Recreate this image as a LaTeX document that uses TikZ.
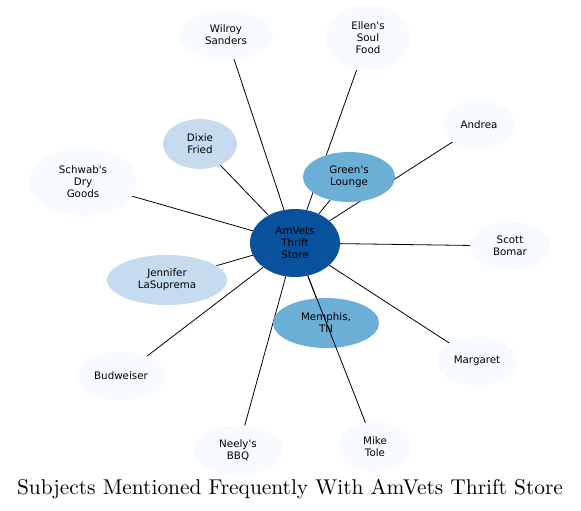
\documentclass[tikz,border=0pt]{standalone}
\usepackage{fontspec}
\newfontfamily\subjfont{DejaVu Sans}
\newfontfamily\titlefont{lmroman10-regular}[Extension=.otf]
\usetikzlibrary{shapes.geometric,backgrounds}

\definecolor{bluepale}{HTML}{F7FBFF}
\definecolor{bluelight}{HTML}{C6DBEF}
\definecolor{bluemid}{HTML}{6BAED6}
\definecolor{bluedark}{HTML}{08519C}

\tikzset{
	subj/.style={ellipse, draw=none, inner sep=0pt, align=center, font=\subjfont\fontsize{10.3}{11.9}\selectfont},
	link/.style={black, line width=0.8pt}
}

\begin{document}
\begin{tikzpicture}[x=1pt, y=-1pt]
				\useasboundingbox (0,0) rectangle (581,511);
				% centre
				\node[subj, fill=bluedark, minimum width=90pt, minimum height=68pt] (amvets) at (295,243) {AmVets\\Thrift\\Store};
				% inner ring
				\node[subj, fill=bluemid, minimum width=92pt, minimum height=50pt] (greens) at (349,177) {Green's\\Lounge};
				\node[subj, fill=bluemid, minimum width=106pt, minimum height=50pt] (memphis) at (326,323) {Memphis,\\TN};
				\node[subj, fill=bluelight, minimum width=74pt, minimum height=50pt] (dixie) at (200,144) {Dixie\\Fried};
				\node[subj, fill=bluelight, minimum width=120pt, minimum height=50pt] (jennifer) at (167,280) {Jennifer\\LaSuprema};
				% outer ring
				\node[subj, fill=bluepale, minimum width=94pt, minimum height=48pt] (wilroy) at (226,35) {Wilroy\\Sanders};
				\node[subj, fill=bluepale, minimum width=84pt, minimum height=66pt] (ellen) at (368,38) {Ellen's\\Soul\\Food};
				\node[subj, fill=bluepale, minimum width=72pt, minimum height=49pt] (andrea) at (479,125) {Andrea};
				\node[subj, fill=bluepale, minimum width=80pt, minimum height=49pt] (scott) at (510,246) {Scott\\Bomar};
				\node[subj, fill=bluepale, minimum width=80pt, minimum height=49pt] (margaret) at (477,361) {Margaret};
				\node[subj, fill=bluepale, minimum width=72pt, minimum height=50pt] (mike) at (375,447) {Mike\\Tole};
				\node[subj, fill=bluepale, minimum width=90pt, minimum height=49pt] (neelys) at (238,450) {Neely's\\BBQ};
				\node[subj, fill=bluepale, minimum width=90pt, minimum height=48pt] (budweiser) at (121,376) {Budweiser};
				\node[subj, fill=bluepale, minimum width=108pt, minimum height=68pt] (schwabs) at (83,182) {Schwab's\\Dry\\Goods};
				% connectors
				\begin{scope}[on background layer]
					\fill[white] (0,0) rectangle (581,511);
					\foreach \n in {wilroy,ellen,andrea,greens,scott,margaret,memphis,neelys,budweiser,jennifer,schwabs,dixie}
						\draw[link] (amvets) -- (\n);
				\end{scope}
				\draw[link] (amvets) -- (mike);
				% title
				\node[font=\titlefont\fontsize{21.4}{26}\selectfont] (title) at (290,489) {Subjects Mentioned Frequently With AmVets Thrift Store};
			\end{tikzpicture}
\end{document}
